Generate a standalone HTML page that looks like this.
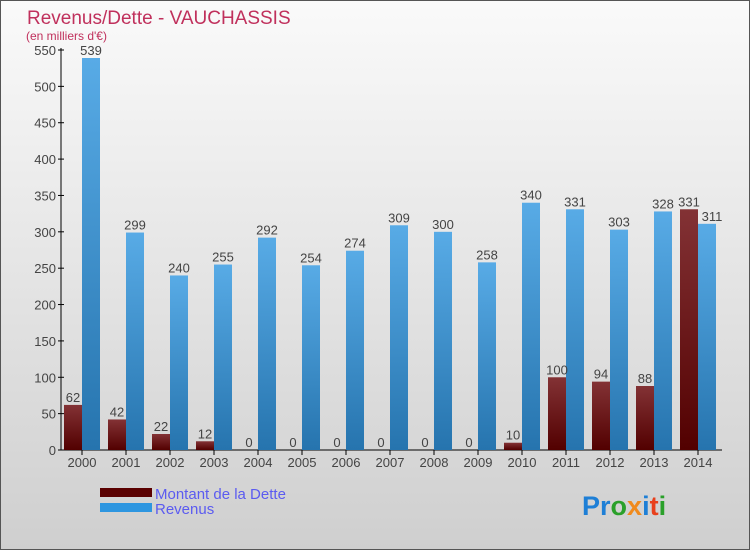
<!DOCTYPE html>
<html><head><meta charset="utf-8"><style>
body{margin:0}
svg{display:block;font-family:"Liberation Sans",sans-serif}
</style></head><body>
<svg id="c" width="750" height="550">
<defs>
<linearGradient id="bg" x1="0" y1="0" x2="0" y2="1"><stop offset="0" stop-color="#fafafa"/><stop offset="1" stop-color="#cfcfcf"/></linearGradient>
<linearGradient id="gd" x1="0" y1="0" x2="0" y2="1"><stop offset="0" stop-color="#833235"/><stop offset="1" stop-color="#520000"/></linearGradient>
<linearGradient id="gr" x1="0" y1="0" x2="0" y2="1"><stop offset="0" stop-color="#58abe6"/><stop offset="1" stop-color="#2674ae"/></linearGradient>
</defs>
<rect x="0.5" y="0.5" width="749" height="549" fill="url(#bg)" stroke="#555"/>
<text x="27" y="24" font-size="19" fill="#c0305c">Revenus/Dette - VAUCHASSIS</text>
<text x="26" y="40" font-size="12" fill="#c0305c">(en milliers d'€)</text>
<g id="ax"></g><g id="bars"></g>
<rect x="100" y="488" width="52" height="9" fill="#5a0000"/>
<rect x="100" y="503" width="52" height="9" fill="#2e96e0"/>
<text x="155" y="499" font-size="15" fill="#5b5bf0">Montant de la Dette</text>
<text x="155" y="514" font-size="15" fill="#5b5bf0">Revenus</text>
<text x="582" y="515" font-size="27" font-weight="bold"><tspan fill="#1e7fd6">Pr</tspan><tspan fill="#2aa02a">o</tspan><tspan fill="#f08a1c">x</tspan><tspan fill="#1e7fd6">i</tspan><tspan fill="#e8401c">t</tspan><tspan fill="#2aa02a">i</tspan></text>
</svg>
<script>
const years=["2000","2001","2002","2003","2004","2005","2006","2007","2008","2009","2010","2011","2012","2013","2014"];
const dette=[62,42,22,12,0,0,0,0,0,0,10,100,94,88,331];
const revenus=[539,299,240,255,292,254,274,309,300,258,340,331,303,328,311];
const ticks=[0,50,100,150,200,250,300,350,400,450,500,550];
const NS="http://www.w3.org/2000/svg";
const y=v=>450-v*400/550, gx=i=>60+44*i;
function mk(t,a,p,txt){const e=document.createElementNS(NS,t);for(const k in a)e.setAttribute(k,a[k]);if(txt!==undefined)e.textContent=txt;p.appendChild(e);return e;}
const ax=document.getElementById('ax'), bars=document.getElementById('bars');
let e=mk('line',{x1:61,y1:48,x2:61,y2:450,stroke:'#000'},ax);

e=mk('line',{x1:61,y1:450,x2:722,y2:450,stroke:'#000'},ax);

ticks.forEach(t=>{
 mk('line',{x1:58,y1:y(t),x2:64,y2:y(t),stroke:'#000'},ax);
 e=mk('text',{x:56,y:y(t)+5,'text-anchor':'end','font-size':13,fill:'#444'},ax,t);
 
});
years.forEach((yr,i)=>{
 const x=gx(i);
 mk('line',{x1:x+22,y1:450,x2:x+22,y2:455,stroke:'#000'},ax);
 e=mk('text',{x:x+22,y:467,'text-anchor':'middle','font-size':13,fill:'#444'},ax,yr);
 
 e=mk('rect',{x:x+4,y:y(dette[i]),width:18,height:450-y(dette[i]),fill:'url(#gd)'},bars);
 
 e=mk('rect',{x:x+22,y:y(revenus[i]),width:18,height:450-y(revenus[i]),fill:'url(#gr)'},bars);
 
 e=mk('text',{x:x+13,y:y(dette[i])-3,'text-anchor':'middle','font-size':13,fill:'#444'},bars,dette[i]);
 
 e=mk('text',{x:x+(i==14?36:31),y:y(revenus[i])-3,'text-anchor':'middle','font-size':13,fill:'#444'},bars,revenus[i]);
 
});
</script>
</body></html>
